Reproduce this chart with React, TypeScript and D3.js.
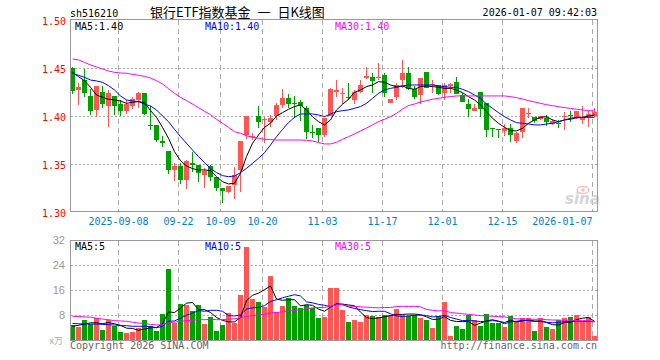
import { useEffect, useRef } from "react";
import * as d3 from "d3";

// daily candles, 2025-08-27 .. 2026-01-07
const candleOpen = [
  1.450, 1.427, 1.437, 1.421, 1.406, 1.425, 1.410, 1.421, 1.413, 1.405,
  1.410, 1.417, 1.424, 1.391, 1.391, 1.374, 1.364, 1.344, 1.348, 1.333,
  1.351, 1.349, 1.339, 1.348, 1.336, 1.325, 1.321, 1.328, 1.344, 1.380,
  1.378, 1.400, 1.396, 1.394, 1.400, 1.411, 1.419, 1.414, 1.415, 1.408,
  1.383, 1.387, 1.380, 1.400, 1.425, 1.423, 1.420, 1.417, 1.425, 1.440,
  1.441, 1.440, 1.443, 1.414, 1.420, 1.437, 1.445, 1.428, 1.422, 1.446,
  1.432, 1.432, 1.424, 1.431, 1.435, 1.422, 1.413, 1.405, 1.425, 1.414,
  1.387, 1.386, 1.384, 1.388, 1.374, 1.383, 1.402, 1.399, 1.397, 1.398,
  1.392, 1.393, 1.399, 1.401, 1.399, 1.396, 1.399, 1.400,
];
const candleHigh = [
  1.451, 1.434, 1.449, 1.428, 1.431, 1.431, 1.427, 1.421, 1.417, 1.417,
  1.420, 1.425, 1.424, 1.410, 1.391, 1.379, 1.364, 1.351, 1.351, 1.354,
  1.362, 1.349, 1.346, 1.349, 1.336, 1.325, 1.327, 1.347, 1.374, 1.400,
  1.382, 1.410, 1.399, 1.401, 1.414, 1.428, 1.423, 1.421, 1.417, 1.410,
  1.391, 1.387, 1.398, 1.429, 1.437, 1.429, 1.434, 1.427, 1.437, 1.451,
  1.445, 1.455, 1.445, 1.418, 1.434, 1.458, 1.451, 1.431, 1.440, 1.446,
  1.438, 1.432, 1.434, 1.434, 1.441, 1.424, 1.418, 1.412, 1.425, 1.414,
  1.388, 1.386, 1.392, 1.392, 1.383, 1.408, 1.408, 1.399, 1.400, 1.401,
  1.397, 1.396, 1.404, 1.405, 1.405, 1.410, 1.405, 1.408,
];
const candleLow = [
  1.423, 1.411, 1.420, 1.401, 1.399, 1.408, 1.389, 1.401, 1.400, 1.402,
  1.407, 1.408, 1.401, 1.385, 1.373, 1.368, 1.340, 1.332, 1.329, 1.324,
  1.342, 1.331, 1.325, 1.332, 1.322, 1.309, 1.320, 1.314, 1.321, 1.376,
  1.375, 1.388, 1.372, 1.389, 1.396, 1.408, 1.408, 1.398, 1.395, 1.376,
  1.377, 1.373, 1.378, 1.400, 1.420, 1.413, 1.417, 1.413, 1.424, 1.439,
  1.424, 1.438, 1.420, 1.414, 1.417, 1.429, 1.427, 1.418, 1.413, 1.429,
  1.424, 1.422, 1.417, 1.424, 1.423, 1.415, 1.399, 1.405, 1.399, 1.378,
  1.378, 1.377, 1.379, 1.373, 1.372, 1.377, 1.398, 1.393, 1.396, 1.390,
  1.391, 1.388, 1.385, 1.394, 1.397, 1.392, 1.389, 1.399,
];
const candleClose = [
  1.426, 1.430, 1.424, 1.405, 1.431, 1.412, 1.424, 1.410, 1.405, 1.413,
  1.418, 1.424, 1.402, 1.390, 1.375, 1.372, 1.344, 1.348, 1.333, 1.353,
  1.349, 1.341, 1.343, 1.336, 1.325, 1.322, 1.327, 1.339, 1.374, 1.400,
  1.379, 1.394, 1.397, 1.398, 1.411, 1.419, 1.412, 1.413, 1.410, 1.383,
  1.382, 1.380, 1.398, 1.428, 1.427, 1.424, 1.419, 1.425, 1.432, 1.442,
  1.436, 1.441, 1.424, 1.418, 1.432, 1.445, 1.428, 1.420, 1.440, 1.429,
  1.433, 1.423, 1.432, 1.433, 1.423, 1.415, 1.407, 1.408, 1.407, 1.385,
  1.386, 1.385, 1.388, 1.380, 1.382, 1.408, 1.403, 1.395, 1.400, 1.394,
  1.395, 1.392, 1.400, 1.400, 1.405, 1.399, 1.402, 1.404,
];

// moving averages as drawn on the chart
const priceMa5 = [
  1.4455, 1.4410, 1.4368, 1.4299, 1.4219, 1.4195, 1.4174, 1.4167, 1.4157, 1.4132,
  1.4143, 1.4150, 1.4139, 1.4056, 1.3986, 1.3882, 1.3768, 1.3629, 1.3535, 1.3480,
  1.3452, 1.3438, 1.3438, 1.3431, 1.3368, 1.3316, 1.3292, 1.3299, 1.3403, 1.3577,
  1.3716, 1.3802, 1.3882, 1.3924, 1.4000, 1.4035, 1.4070, 1.4098, 1.4115, 1.4063,
  1.3993, 1.3941, 1.3907, 1.3959, 1.4063, 1.4122, 1.4174, 1.4247, 1.4271, 1.4306,
  1.4323, 1.4358, 1.4351, 1.4323, 1.4306, 1.4313, 1.4288, 1.4278, 1.4306, 1.4313,
  1.4306, 1.4299, 1.4288, 1.4288, 1.4271, 1.4243, 1.4202, 1.4167, 1.4115, 1.4045,
  1.3976, 1.3924, 1.3882, 1.3848, 1.3844, 1.3872, 1.3924, 1.3959, 1.3986, 1.3993,
  1.3959, 1.3941, 1.3959, 1.3976, 1.3986, 1.3986, 1.4000, 1.4011,
];
const priceMa10 = [
  1.4445, 1.4424, 1.4403, 1.4375, 1.4365, 1.4351, 1.4316, 1.4271, 1.4209, 1.4167,
  1.4157, 1.4150, 1.4125, 1.4104, 1.4063, 1.4000, 1.3941, 1.3861, 1.3785, 1.3716,
  1.3646, 1.3577, 1.3514, 1.3455, 1.3410, 1.3379, 1.3368, 1.3375, 1.3410, 1.3455,
  1.3507, 1.3559, 1.3618, 1.3698, 1.3785, 1.3860, 1.3931, 1.3986, 1.4021, 1.4021,
  1.4021, 1.4011, 1.3993, 1.4021, 1.4045, 1.4056, 1.4063, 1.4080, 1.4098, 1.4132,
  1.4184, 1.4236, 1.4271, 1.4288, 1.4299, 1.4313, 1.4323, 1.4323, 1.4323, 1.4323,
  1.4323, 1.4313, 1.4306, 1.4299, 1.4299, 1.4278, 1.4254, 1.4219, 1.4184, 1.4125,
  1.4080, 1.4035, 1.3993, 1.3959, 1.3931, 1.3924, 1.3917, 1.3907, 1.3907, 1.3917,
  1.3924, 1.3941, 1.3959, 1.3966, 1.3980, 1.3986, 1.3986, 1.3986,
];
const priceMa30 = [
  1.4594, 1.4584, 1.4559, 1.4532, 1.4511, 1.4490, 1.4469, 1.4455, 1.4448, 1.4445,
  1.4434, 1.4424, 1.4413, 1.4396, 1.4368, 1.4334, 1.4285, 1.4236, 1.4195, 1.4160,
  1.4125, 1.4087, 1.4049, 1.4014, 1.3966, 1.3924, 1.3882, 1.3837, 1.3820, 1.3795,
  1.3778, 1.3768, 1.3757, 1.3754, 1.3750, 1.3750, 1.3750, 1.3750, 1.3750, 1.3747,
  1.3740, 1.3723, 1.3709, 1.3709, 1.3726, 1.3757, 1.3785, 1.3813, 1.3844, 1.3875,
  1.3907, 1.3941, 1.3966, 1.3993, 1.4028, 1.4073, 1.4108, 1.4125, 1.4146, 1.4160,
  1.4174, 1.4184, 1.4195, 1.4202, 1.4209, 1.4209, 1.4209, 1.4209, 1.4209, 1.4209,
  1.4209, 1.4209, 1.4209, 1.4202, 1.4191, 1.4177, 1.4160, 1.4146, 1.4132, 1.4118,
  1.4108, 1.4097, 1.4087, 1.4080, 1.4070, 1.4063, 1.4056, 1.4052,
];

// volume (万手)
const volume = [
  4.8, 4.3, 6.4, 5.0, 6.9, 3.2, 6.4, 4.5, 2.7, 2.1,
  2.6, 3.7, 6.4, 4.5, 2.9, 8.3, 22.7, 5.5, 11.5, 11.2,
  9.3, 11.2, 5.1, 7.3, 3.0, 4.8, 8.7, 5.3, 14.4, 29.9,
  13.1, 12.3, 10.7, 20.5, 9.1, 10.9, 13.3, 10.9, 10.1, 11.2,
  10.1, 7.1, 7.5, 16.5, 16.7, 9.6, 5.9, 6.4, 5.9, 8.0,
  7.7, 7.3, 8.0, 8.0, 9.9, 8.0, 7.7, 8.0, 7.1, 6.4,
  3.9, 7.7, 12.3, 1.3, 4.5, 3.5, 8.0, 6.4, 4.5, 8.3,
  5.5, 5.5, 4.3, 7.7, 6.2, 6.9, 6.9, 3.0, 6.9, 4.3,
  3.4, 6.4, 7.1, 7.5, 8.0, 5.9, 7.3, 1.3,
];
const volMa5 = [
  4.4, 4.7, 5.1, 5.5, 5.5, 5.2, 5.6, 5.2, 4.7, 3.8,
  3.7, 3.1, 3.5, 3.9, 4.0, 5.2, 9.0, 8.8, 10.2, 11.8,
  12.0, 9.7, 9.7, 8.8, 7.2, 6.3, 5.8, 5.8, 7.2, 12.6,
  14.3, 15.0, 16.1, 17.3, 13.1, 12.7, 12.9, 12.9, 10.9, 11.3,
  11.1, 9.9, 9.2, 10.5, 11.6, 11.5, 11.2, 11.0, 8.9, 7.2,
  6.8, 7.1, 7.4, 7.8, 8.2, 8.2, 8.3, 8.3, 8.1, 7.4,
  6.6, 6.6, 7.5, 6.3, 5.9, 5.9, 5.9, 4.7, 5.4, 6.1,
  6.5, 6.0, 5.6, 6.3, 5.8, 6.1, 6.4, 6.1, 6.0, 5.6,
  4.9, 4.8, 5.6, 5.7, 6.5, 7.0, 7.2, 6.0,
];
const volMa10 = [
  5.3, 5.2, 5.1, 5.1, 5.1, 5.0, 4.9, 4.8, 4.6, 4.6,
  4.4, 4.4, 4.4, 4.3, 3.9, 4.4, 6.0, 6.1, 7.0, 7.9,
  8.6, 9.4, 9.2, 9.5, 9.5, 9.2, 7.8, 7.7, 8.0, 9.9,
  10.3, 10.4, 11.0, 12.3, 12.9, 13.5, 14.0, 14.5, 14.1, 12.2,
  11.9, 11.4, 11.1, 10.7, 11.4, 11.3, 10.6, 10.1, 9.7, 9.4,
  9.1, 9.2, 9.2, 8.4, 7.7, 7.5, 7.7, 7.9, 8.0, 7.8,
  7.4, 7.5, 7.9, 7.2, 6.7, 6.2, 6.3, 6.1, 5.9, 6.0,
  6.2, 6.0, 5.2, 5.8, 6.0, 6.3, 6.2, 5.9, 6.1, 5.7,
  5.5, 5.6, 5.9, 5.9, 6.0, 5.9, 6.0, 5.8,
];
const volMa30 = [
  7.6, 7.5, 7.4, 7.3, 7.0, 6.7, 6.5, 6.2, 6.1, 6.0,
  5.7, 5.4, 5.3, 5.0, 4.8, 4.9, 5.6, 5.7, 6.0, 6.2,
  6.3, 6.5, 6.5, 6.6, 6.5, 6.5, 6.7, 6.8, 7.1, 7.5,
  7.8, 8.0, 8.2, 8.7, 8.8, 9.0, 9.3, 9.5, 9.7, 10.0,
  10.3, 10.4, 10.4, 10.8, 11.3, 11.3, 10.8, 10.8, 10.6, 10.5,
  10.4, 10.3, 10.4, 10.4, 10.7, 10.8, 10.7, 10.8, 10.6, 9.8,
  9.5, 9.3, 9.4, 8.8, 8.6, 8.4, 8.2, 8.0, 7.8, 7.7,
  7.6, 7.5, 7.4, 7.1, 6.8, 6.7, 6.7, 6.6, 6.7, 6.5,
  6.4, 6.4, 6.3, 6.3, 6.2, 6.2, 6.2, 5.9,
];

const tickIndex = [8, 18, 25, 32, 42, 52, 62, 72, 87];
const tickLabels = ["2025-09-08", "09-22", "10-09", "10-20", "11-03", "11-17", "12-01", "12-15", "2026-01-07"];
const priceTicks = [1.30, 1.35, 1.40, 1.45, 1.50];
const priceGrid = [1.35, 1.40, 1.45];
const volTicks = [8, 16, 24, 32];
const volGrid = [8, 16, 24];
const priceMaLabels = ["MA5:1.40", "MA10:1.40", "MA30:1.40"];
const volMaLabels = ["MA5:5", "MA10:5", "MA30:5"];

const RED = "#ff5555";
const GREEN = "#00a000";
const MA_COLORS = ["#000000", "#0000ff", "#ff00ff"];
const GRID = "#aaaaaa";
const MONO = "'DejaVu Sans Mono', monospace";

function KLineChart() {
  const svgRef = useRef<SVGSVGElement>(null);

  useEffect(() => {
    const svg = d3.select(svgRef.current);
    svg.selectAll("*").remove();

    const n = candleClose.length;
    const x = d3.scaleLinear().domain([0, n]).range([70, 598]);
    const yPrice = d3.scaleLinear().domain([1.3, 1.5]).range([212, 20]);
    const yVol = d3.scaleLinear().domain([0, 32]).range([340, 240]);
    const up = (i: number) => candleClose[i] >= candleOpen[i];

    svg.append("rect").attr("width", 660).attr("height", 360).attr("fill", "#fff");

    // header
    svg.append("text").attr("x", 70).attr("y", 17).attr("font-family", MONO).attr("font-size", 10)
      .text("sh516210");
    svg.append("text").attr("x", 150).attr("y", 16.5).attr("font-family", "'Noto Sans CJK SC', sans-serif")
      .attr("font-size", 13).style("word-spacing", "4px").text("银行ETF指数基金 一 日K线图");
    svg.append("text").attr("x", 597).attr("y", 16).attr("text-anchor", "end").attr("font-family", MONO)
      .attr("font-size", 10).text("2026-01-07 09:42:03");

    // grid lines
    const grid = svg.append("g").attr("shape-rendering", "crispEdges");
    [[20, 211], [241, 340]].forEach(([top, bottom]) => {
      grid.append("g").selectAll("line").data(tickIndex).join("line")
        .attr("x1", d => Math.round(x(d)) + 0.5).attr("x2", d => Math.round(x(d)) + 0.5)
        .attr("y1", top).attr("y2", bottom)
        .attr("stroke", GRID).attr("stroke-dasharray", "5,4");
    });
    grid.append("g").selectAll("line").data(priceGrid).join("line")
      .attr("x1", 71).attr("x2", 597).attr("y1", d => Math.round(yPrice(d)) + 0.5).attr("y2", d => Math.round(yPrice(d)) + 0.5)
      .attr("stroke", GRID).attr("stroke-dasharray", "2,2");
    grid.append("g").selectAll("line").data(volGrid).join("line")
      .attr("x1", 71).attr("x2", 597).attr("y1", d => Math.round(yVol(d)) + 0.5).attr("y2", d => Math.round(yVol(d)) + 0.5)
      .attr("stroke", GRID).attr("stroke-dasharray", "2,2");

    // sina watermark
    const mark = svg.append("g").attr("opacity", 0.8);
    mark.append("ellipse").attr("cx", 583).attr("cy", 190).attr("rx", 6).attr("ry", 3.5)
      .attr("fill", "none").attr("stroke", "#f2b0b0").attr("stroke-width", 1.5);
    mark.append("circle").attr("cx", 583).attr("cy", 190).attr("r", 1.8).attr("fill", "#f2b0b0");
    mark.append("text").attr("x", 565).attr("y", 204).attr("font-family", "'DejaVu Sans', sans-serif")
      .attr("font-size", 15).attr("font-weight", "bold").attr("font-style", "italic")
      .attr("fill", "#cccccc").text("sina");

    // candles
    const idx = d3.range(n);
    const candles = svg.append("g").attr("shape-rendering", "crispEdges");
    candles.selectAll(".wick").data(idx).join("rect").attr("class", "wick")
      .attr("x", i => x(i) + 2).attr("width", 1)
      .attr("y", i => yPrice(candleHigh[i]))
      .attr("height", i => Math.max(1, yPrice(candleLow[i]) - yPrice(candleHigh[i])))
      .attr("fill", i => (up(i) ? RED : GREEN));
    candles.selectAll(".body").data(idx).join("rect").attr("class", "body")
      .attr("x", i => x(i)).attr("width", 5)
      .attr("y", i => yPrice(Math.max(candleOpen[i], candleClose[i])))
      .attr("height", i => Math.max(1, Math.abs(yPrice(candleOpen[i]) - yPrice(candleClose[i]))))
      .attr("fill", i => (up(i) ? RED : GREEN));

    // volume bars
    svg.append("g").attr("shape-rendering", "crispEdges").selectAll("rect").data(idx).join("rect")
      .attr("x", i => x(i)).attr("width", 5)
      .attr("y", i => yVol(volume[i])).attr("height", i => 340.5 - yVol(volume[i]))
      .attr("fill", i => (up(i) ? RED : GREEN));

    // moving averages: MA5 black, MA10 blue, MA30 magenta
    const drawLines = (series: number[][], y: d3.ScaleLinear<number, number>) => {
      const line = d3.line<number>().x((_, i) => x(i) + 2.5).y(d => y(d));
      series.forEach((s, k) => {
        svg.append("path").attr("d", line(s)).attr("fill", "none")
          .attr("stroke", MA_COLORS[k]).attr("stroke-width", 1);
      });
    };
    drawLines([priceMa5, priceMa10, priceMa30], yPrice);
    drawLines([volMa5, volMa10, volMa30], yVol);

    // panel frames
    svg.append("rect").attr("x", 70.5).attr("y", 19.5).attr("width", 527).attr("height", 192)
      .attr("fill", "none").attr("stroke", "#999").attr("shape-rendering", "crispEdges");
    svg.append("rect").attr("x", 70.5).attr("y", 240.5).attr("width", 527).attr("height", 100)
      .attr("fill", "none").attr("stroke", "#999").attr("shape-rendering", "crispEdges");

    // MA legends
    const legendX = [75, 205, 335];
    priceMaLabels.forEach((t, k) => {
      svg.append("text").attr("x", legendX[k]).attr("y", 30).attr("font-family", MONO).attr("font-size", 10)
        .attr("fill", MA_COLORS[k]).text(t);
    });
    volMaLabels.forEach((t, k) => {
      svg.append("text").attr("x", legendX[k]).attr("y", 250).attr("font-family", MONO).attr("font-size", 10)
        .attr("fill", MA_COLORS[k]).text(t);
    });

    // axes
    const priceAxis = svg.append("g").attr("transform", "translate(70,0)")
      .call(d3.axisLeft(yPrice).tickValues(priceTicks).tickFormat(d3.format(".2f")).tickSize(0).tickPadding(4));
    priceAxis.select(".domain").remove();
    priceAxis.attr("font-family", MONO).attr("font-size", 10);
    priceAxis.selectAll("text").attr("fill", "#ff0000").attr("dy", "0.4em");

    const volAxis = svg.append("g").attr("transform", "translate(70,0)")
      .call(d3.axisLeft(yVol).tickValues(volTicks).tickSize(0).tickPadding(5));
    volAxis.select(".domain").remove();
    volAxis.attr("font-family", "'Liberation Sans', Arial, sans-serif").attr("font-size", 11);
    volAxis.selectAll("text").attr("fill", "#999").attr("dy", "0.3em");

    const dateAxis = svg.append("g").attr("transform", "translate(0,212)")
      .call(d3.axisBottom(x).tickValues(tickIndex).tickFormat((_, k) => tickLabels[k]).tickSize(0));
    dateAxis.select(".domain").remove();
    dateAxis.attr("font-family", MONO).attr("font-size", 10);
    dateAxis.selectAll("text").attr("fill", "#0080cc").attr("y", 13).attr("dy", 0)
      .attr("text-anchor", (_, k) => (k === tickIndex.length - 1 ? "end" : "middle"));

    // footer
    svg.append("text").attr("x", 63).attr("y", 344).attr("text-anchor", "end")
      .attr("font-family", "'Noto Sans CJK SC', sans-serif").attr("font-size", 9).attr("fill", "#aaa").text("x万");
    svg.append("text").attr("x", 70).attr("y", 349).attr("font-family", MONO).attr("font-size", 10)
      .attr("fill", "#666").text("Copyright 2026 SINA.COM");
    svg.append("text").attr("x", 597).attr("y", 349).attr("text-anchor", "end").attr("font-family", MONO)
      .attr("font-size", 10).attr("fill", "#666").text("http://finance.sina.com.cn");
  }, []);

  return (
    <svg ref={svgRef} width={660} height={360}
      style={{ position: "absolute", left: 0, top: 0, display: "block" }} />
  );
}

export default function App() {
  return <KLineChart />;
}
